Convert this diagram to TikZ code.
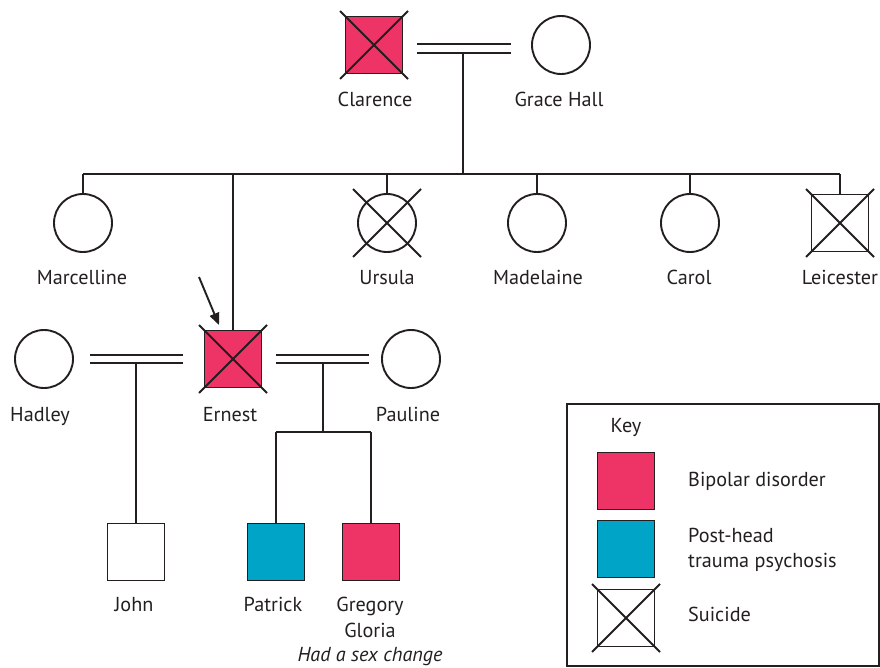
\documentclass[tikz,border=0pt]{standalone}
\usepackage{fontspec}
\setmainfont{PT Sans}
\usetikzlibrary{arrows.meta}

\definecolor{ink}{HTML}{231F20}
\definecolor{bipolar}{RGB}{238,52,102}
\definecolor{trauma}{RGB}{0,164,198}

\tikzset{
  line/.style={draw=ink, line width=1.9pt},
  male/.style={line, rectangle, minimum size=57pt, inner sep=0pt},
  female/.style={line, circle, minimum size=58pt, inner sep=0pt},
  persname/.style={anchor=base, font=\fontsize{20.2}{24}\selectfont, text=ink, inner sep=0pt},
  keytext/.style={persname, anchor=base west},
}

% diagonal cross through a person symbol (suicide)
\newcommand\deceasedx[1]{%
  \draw[line] ([shift={(-34pt,34pt)}]#1.center) -- ([shift={(34pt,-34pt)}]#1.center)
              ([shift={(-34pt,-34pt)}]#1.center) -- ([shift={(34pt,34pt)}]#1.center);}

\begin{document}
\begin{tikzpicture}[x=1pt,y=-1pt]
\useasboundingbox (0,0) rectangle (880,668);

% ---- generation I
\node[male, fill=bipolar] (cl) at (374,45) {};
\node[female] (gh) at (561,45) {};
\deceasedx{cl}
\node[persname] (clN) at (375,107) {Clarence};
\node[persname] (ghN) at (559,107) {Grace Hall};

\coordinate (cgA) at (417,44);
\coordinate (cgB) at (511,44);
\coordinate (cgC) at (417,53);
\coordinate (cgD) at (511,53);
\coordinate (cgM) at (463,53);
\coordinate (sib) at (463,174);
\draw[line] (cgA) -- (cgB) (cgC) -- (cgD);
\draw[line] (cgM) -- (sib);

% ---- generation II
\node[female] (ma) at (83,223) {};
\node[female] (ur) at (387,223) {};
\node[female] (md) at (537,223) {};
\node[female] (ca) at (690,223) {};
\node[male]   (le) at (840,223) {};
\node[male, fill=bipolar] (er) at (233,359) {};
\deceasedx{ur}
\deceasedx{le}
\deceasedx{er}

\draw[line] (ma.north |- sib) -- (le.north |- sib);
\foreach \p in {ma,ur,md,ca,le,er}
  \draw[line] (\p.north) -- (\p.north |- sib);

\node[persname] (maN) at (82,284) {Marcelline};
\node[persname] (urN) at (387,284) {Ursula};
\node[persname] (mdN) at (538,284) {Madelaine};
\node[persname] (caN) at (689,284) {Carol};
\node[persname] (leN) at (840,284) {Leicester};

% proband arrow
\coordinate (pa) at (199,277);
\coordinate (pb) at (219,325);
\draw[line, -{Triangle[length=12pt,width=10pt]}] (pa) -- (pb);

% spouses of Ernest
\node[female] (ha) at (44,359) {};
\node[female] (pa2) at (411,359) {};
\node[persname] (haN) at (40,421) {Hadley};
\node[persname] (erN) at (230,421) {Ernest};
\node[persname] (paN) at (408,421) {Pauline};

\coordinate (heA) at (90,355);
\coordinate (heB) at (183,355);
\coordinate (heC) at (90,363);
\coordinate (heD) at (183,363);
\coordinate (heM) at (136,363);
\draw[line] (heA) -- (heB) (heC) -- (heD);

\coordinate (epA) at (276,355);
\coordinate (epB) at (369,355);
\coordinate (epC) at (276,363);
\coordinate (epD) at (369,363);
\coordinate (epM) at (323,363);
\coordinate (epS) at (323,432);
\draw[line] (epA) -- (epB) (epC) -- (epD);
\draw[line] (epM) -- (epS);

% ---- generation III
\node[male] (jo) at (136,552) {};
\node[male, fill=trauma] (pt) at (276,552) {};
\node[male, fill=bipolar] (gr) at (371,552) {};

\draw[line] (heM) -- (jo.north);
\draw[line] (pt.north |- epS) -- (gr.north |- epS);
\draw[line] (pt.north) -- (pt.north |- epS);
\draw[line] (gr.north) -- (gr.north |- epS);

\node[persname] (joN) at (134,611) {John};
\node[persname] (ptN) at (273,611) {Patrick};
\node[persname] (grN) at (370,611) {Gregory};
\node[persname] (glN) at (370,637) {Gloria};
\node[persname, font=\fontsize{20.2}{24}\selectfont\itshape] (sxN) at (370,661) {Had a sex change};

% ---- key
\node[line, rectangle, anchor=north west, minimum width=312pt, minimum height=262pt, inner sep=0pt] (key) at (566,403) {};
\node[persname] (keyN) at (626,432) {Key};
\node[male, fill=bipolar] (k1) at (626,481) {};
\node[male, fill=trauma]  (k2) at (626,549) {};
\node[male]               (k3) at (626,618) {};
\deceasedx{k3}
\node[keytext] (k1N) at (688,486) {Bipolar disorder};
\node[keytext] (k2N) at (688,542) {Post-head};
\node[keytext] (k2M) at (688,567) {trauma psychosis};
\node[keytext] (k3N) at (688,621) {Suicide};
\end{tikzpicture}
\end{document}
